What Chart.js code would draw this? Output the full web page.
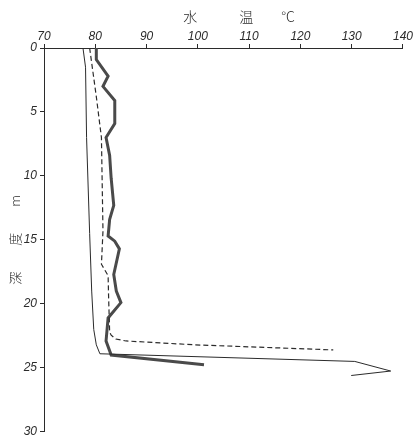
<!DOCTYPE html>
<html>
<head>
<meta charset="utf-8">
<script src="https://cdn.jsdelivr.net/npm/chart.js@4"></script>
<style>
  html, body { margin: 0; padding: 0; background: #fff; }
</style>
</head>
<body>
<canvas id="tempChart" width="413" height="442"></canvas>
<script>
// water temperature (°C) against depth (m)
let thickTemp  = [80.2, 80.2, 82.5, 81.5, 83.8, 83.8, 82.1, 82.8, 83.1, 83.6, 82.8, 82.5, 83.8, 84.7, 83.6, 84.1, 85.0, 82.5, 82.1, 83.1, 101.2];
let thickDepth = [0, 0.9, 2.2, 3.0, 4.1, 5.9, 7.0, 8.4, 10.2, 12.3, 13.4, 14.7, 15.1, 15.7, 17.7, 19.0, 19.9, 21.1, 22.9, 24.0, 24.75];

let thinTemp  = [77.6, 78.1, 78.3, 78.9, 79.3, 79.7, 80.2, 80.9, 130.6, 137.6, 129.9];
let thinDepth = [0, 1.5, 7.0, 14.5, 19.0, 22.0, 23.2, 23.9, 24.5, 25.25, 25.6];

let dashTemp  = [78.9, 80.2, 81.2, 81.5, 81.2, 82.5, 82.6, 82.8, 83.1, 84.0, 86.0, 99.3, 126.4];
let dashDepth = [0, 3.8, 7.0, 14.3, 16.9, 17.8, 19.5, 22.2, 22.45, 22.75, 22.9, 23.2, 23.6];

let tempTicks  = [70, 80, 90, 100, 110, 120, 130, 140];
let depthTicks = [0, 5, 10, 15, 20, 25, 30];

function points(xs, ys) {
  return xs.map((x, i) => ({ x: x, y: ys[i] }));
}

const ink = "#2b2b2b";
const tickFont = { family: "'Liberation Sans Narrow', 'Liberation Sans', sans-serif", size: 12, style: "italic" };
const cjkFont = { family: "'Noto Sans CJK JP', sans-serif", size: 13, weight: "300" };

let ctx = document.getElementById("tempChart").getContext("2d");
let myChart = new Chart(ctx, {
  type: "scatter",
  data: {
    datasets: [
      {
        data: points(thinTemp, thinDepth),
        showLine: true,
        borderColor: ink,
        borderWidth: 1,
        pointRadius: 0
      },
      {
        data: points(dashTemp, dashDepth),
        showLine: true,
        borderColor: ink,
        borderWidth: 1.2,
        borderDash: [5, 3],
        pointRadius: 0
      },
      {
        data: points(thickTemp, thickDepth),
        showLine: true,
        borderColor: "#4a4a4a",
        borderWidth: 3,
        pointRadius: 0
      },
      {
        data: points(thickTemp, thickDepth),
        showLine: true,
        borderColor: "#c4c4c4",
        borderWidth: 0.9,
        pointRadius: 0
      }
    ]
  },
  options: {
    responsive: false,
    animation: false,
    layout: { padding: { top: 8, right: 8, bottom: 10, left: 0 } },
    plugins: { legend: { display: false }, tooltip: { enabled: false } },
    scales: {
      x: {
        type: "linear",
        position: "top",
        min: 70,
        max: 140,
        afterBuildTicks: (axis) => { axis.ticks = tempTicks.map(v => ({ value: v })); },
        afterFit: (axis) => { axis.height = 40; },
        ticks: { color: ink, font: tickFont, padding: 0, maxRotation: 0 },
        grid: { drawOnChartArea: false, drawTicks: true, tickLength: 4, color: ink },
        border: { color: ink, width: 1 },
        title: {
          display: true,
          text: "\u3000\u3000 水\u3000\u3000\u3000温\u3000\u3000°C",
          color: ink,
          font: { family: "'Noto Sans CJK JP', sans-serif", size: 14, weight: "300" },
          padding: { top: 0, bottom: 0 }
        }
      },
      y: {
        type: "linear",
        reverse: true,
        min: 0,
        max: 30,
        afterBuildTicks: (axis) => { axis.ticks = depthTicks.map(v => ({ value: v })); },
        afterFit: (axis) => { axis.width = 44; },
        ticks: { color: ink, font: tickFont, padding: 3 },
        grid: { drawOnChartArea: false, drawTicks: true, tickLength: 4, color: ink },
        border: { color: ink, width: 1 },
        title: {
          display: true,
          text: "深\u3000\u3000度\u3000\u3000m",
          color: ink,
          font: cjkFont,
          padding: { top: 7, bottom: 0 }
        }
      }
    }
  }
});
</script>
</body>
</html>
